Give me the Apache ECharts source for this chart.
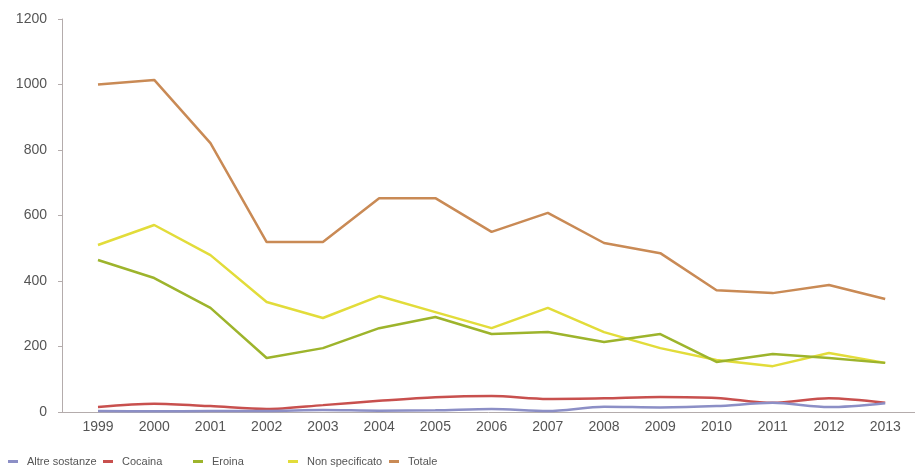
<!DOCTYPE html>
<html>
<head>
<meta charset="utf-8">
<script src="https://cdn.jsdelivr.net/npm/echarts@6/dist/echarts.min.js"></script>
<style>html,body{margin:0;padding:0;background:#fff}#c{width:915px;height:470px}</style>
</head>
<body>
<div id="c"></div>
<script>
var years = [1999,2000,2001,2002,2003,2004,2005,2006,2007,2008,2009,2010,2011,2012,2013];
var altreSostanze = [3,2,3,3,6,4,5,9,3,16,14,18,28,15,27];
var cocaina = [15,25,18,9,21,34,45,49,40,42,46,43,28,42,28];
var eroina = [464,409,318,165,195,256,290,238,244,214,238,153,177,165,150];
var nonSpecificato = [510,571,479,336,287,354,305,256,318,244,195,159,140,180,150];
var totale = [1000,1014,821,519,519,653,653,550,608,516,485,372,363,388,345];
var seriesNames = ['Altre sostanze','Cocaina','Eroina','Non specificato','Totale'];
var yTicks = [0,200,400,600,800,1000,1200];

var colors = ['#8c8fc6','#c8504e','#9db42c','#e2dc3a','#c98a55'];
var values = [altreSostanze,cocaina,eroina,nonSpecificato,totale];
function pairs(arr){ return years.map(function(y,i){ return [y, arr[i]]; }); }

var font = "'Liberation Sans',Arial,sans-serif";
var legendLefts = [3, 98, 188, 283, 384];

var chart = echarts.init(document.getElementById('c'), null, {renderer:'canvas'});
chart.setOption({
  animation:false,
  backgroundColor:'#fff',
  grid:{left:62, right:0, top:19, bottom:58},
  xAxis:{
    type:'value', min:1998.36, max:2013.53,
    splitLine:{show:false},
    axisLine:{show:true, lineStyle:{color:'#b4acac', width:1}},
    axisTick:{show:false},
    axisLabel:{
      color:'#555', fontSize:14, fontFamily:font, margin:8,
      customValues: years,
      formatter:function(v){ return String(Math.round(v)); }
    }
  },
  yAxis:{
    type:'value', min:yTicks[0], max:yTicks[yTicks.length-1], interval:200,
    splitLine:{show:false},
    axisLine:{show:true, lineStyle:{color:'#b4acac', width:1}},
    axisTick:{show:true, length:4, lineStyle:{color:'#b4acac'}},
    axisLabel:{color:'#555', fontSize:14, fontFamily:font, margin:15,
      formatter:function(v){ return String(v); }}
  },
  legend: seriesNames.map(function(n,i){
    return {
      data:[n], left:legendLefts[i], top:451, itemWidth:10, itemHeight:3, icon:'rect',
      textStyle:{color:'#555', fontSize:11, fontFamily:font, padding:[0,0,0,4]}
    };
  }),
  series: seriesNames.map(function(n,i){
    return {
      name:n, type:'line', data:pairs(values[i]), showSymbol:false, symbol:'none',
      smooth:(i<2)?0.3:false,
      itemStyle:{color:colors[i]},
      lineStyle:{color:colors[i], width:2.5},
      z: 10 - i
    };
  })
});
</script>
</body>
</html>
